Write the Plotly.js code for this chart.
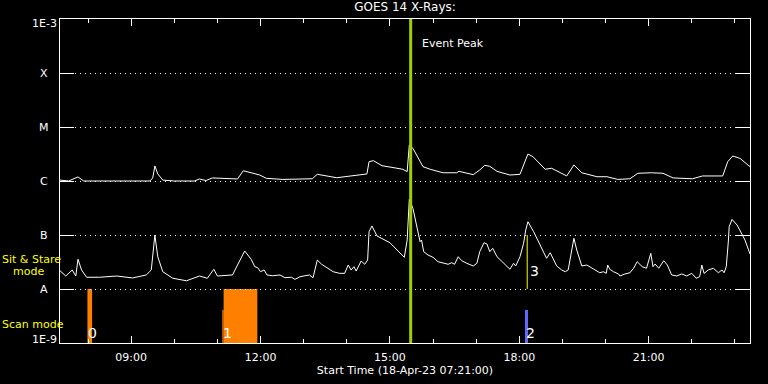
<!DOCTYPE html>
<html>
<head>
<meta charset="utf-8">
<script src="https://cdn.plot.ly/plotly-3.0.1.min.js"></script>
<style>html,body{margin:0;padding:0;background:#000;}#chart{width:768px;height:384px;}</style>
</head>
<body>
<div id="chart"></div>
<script>
// ---- data ----
const day = '2023-04-18';
const longTimes = ['07:21','07:33','07:46','07:54','08:33','09:26','09:30','09:33','09:37','09:44','10:00','10:28','10:35','10:44','10:53','11:28','11:36','11:49','11:59','12:08','12:31','13:12','13:19','13:46','14:05','14:28','14:31','14:37','14:49','15:00','15:18','15:24','15:27','15:32','15:46','15:56','16:14','16:33','16:36','16:56','17:05','17:12','17:19','17:29','17:47','18:01','18:12','18:19','18:36','18:45','19:06','19:16','19:27','19:48','20:02','20:17','20:34','20:45','21:04','21:20','21:34','22:01','22:15','22:43','22:50','22:57','23:07','23:21'];
const longFlux = [1.04e-6,1.0e-6,1.19e-6,1.0e-6,1.0e-6,1.0e-6,1.14e-6,1.9e-6,1.35e-6,1.04e-6,1.0e-6,1.0e-6,1.09e-6,1.02e-6,1.14e-6,1.09e-6,1.55e-6,1.42e-6,1.29e-6,1.12e-6,1.07e-6,1.1e-6,1.33e-6,1.15e-6,1.24e-6,1.35e-6,2.28e-6,2.38e-6,1.92e-6,1.82e-6,1.65e-6,1.49e-6,4.64e-6,4.03e-6,1.84e-6,1.65e-6,1.42e-6,1.42e-6,1.51e-6,1.31e-6,1.6e-6,1.95e-6,1.87e-6,1.51e-6,1.29e-6,1.33e-6,3.16e-6,2.82e-6,1.65e-6,1.72e-6,1.24e-6,1.98e-6,1.42e-6,1.2e-6,1.2e-6,1.07e-6,1.1e-6,1.39e-6,1.42e-6,1.39e-6,1.14e-6,1.1e-6,1.24e-6,1.24e-6,2.28e-6,2.9e-6,2.63e-6,1.84e-6];
const shortTimes = [
  '07:21','07:29','07:38','07:43','07:46','07:51','07:58','08:16','08:40','09:02',
  '09:21','09:28','09:33','09:37','09:44','09:58','10:17','10:35','10:46','10:55',
  '11:00','11:21','11:28','11:38','11:47','11:52','11:56','12:00','12:05','12:09',
  '12:17','12:27','12:34','12:43','12:48','12:55','13:02','13:08','13:13','13:16',
  '13:19','13:25','13:32','13:41','13:50','13:57','14:02','14:06','14:10','14:13',
  '14:20','14:25','14:29','14:31','14:35','14:42','15:00','15:20','15:24','15:27',
  '15:32','15:38','15:42','15:44','15:47','15:53','16:00','16:07','16:14','16:21',
  '16:26','16:30','16:35','16:40','16:47','16:56','17:01','17:05','17:11','17:15',
  '17:19','17:23','17:29','17:36','17:42','17:47','17:52','17:55','18:01','18:06',
  '18:09','18:12','18:20','18:27','18:34','18:38','18:43','18:48','18:52','18:59',
  '19:04','19:08','19:13','19:16','19:20','19:25','19:27','19:34','19:41','19:48',
  '19:52','19:57','20:01','20:03','20:06','20:11','20:18','20:20','20:27','20:34',
  '20:39','20:44','20:51','20:57','21:03','21:06','21:09','21:14','21:21','21:26',
  '21:32','21:39','21:46','21:53','22:00','22:06','22:11','22:14','22:17','22:23',
  '22:30','22:37','22:42','22:45','22:48','22:51','22:52','22:56','23:03','23:14',
  '23:21'];
const shortFlux = [
  2.18e-8,1.74e-8,2.25e-8,1.74e-8,3.55e-8,2.25e-8,1.65e-8,1.65e-8,1.74e-8,1.6e-8,
  1.82e-8,2.25e-8,1.0e-7,3.96e-8,2.09e-8,1.58e-8,1.42e-8,1.74e-8,1.58e-8,2.32e-8,
  1.74e-8,1.82e-8,2.78e-8,5.06e-8,3.55e-8,2.59e-8,2.48e-8,2.09e-8,2.25e-8,1.82e-8,
  1.76e-8,1.82e-8,1.62e-8,1.65e-8,1.51e-8,1.69e-8,1.76e-8,1.82e-8,1.62e-8,2.25e-8,
  3.44e-8,2.87e-8,2.48e-8,2.09e-8,1.95e-8,1.95e-8,2.78e-8,2.25e-8,2.59e-8,2.15e-8,
  3.3e-8,2.87e-8,3.44e-8,1.15e-7,1.47e-7,9.6e-8,7.2e-8,3.86e-8,8.08e-8,4.58e-7,
  3.12e-7,1.42e-7,7.52e-8,8.08e-8,4.91e-8,4.26e-8,3.86e-8,3.2e-8,2.99e-8,2.87e-8,
  3.07e-8,2.87e-8,3.96e-8,3.34e-8,2.99e-8,2.67e-8,2.99e-8,4.91e-8,7.2e-8,6.81e-8,
  4.91e-8,5.67e-8,3.96e-8,3.2e-8,2.78e-8,2.32e-8,2.99e-8,2.67e-8,3.96e-8,7.02e-8,
  1.24e-7,1.76e-7,1.15e-7,7.52e-8,4.91e-8,3.7e-8,4.7e-8,3.44e-8,2.67e-8,2.25e-8,
  2.09e-8,2.25e-8,5.27e-8,8.69e-8,5.27e-8,3.34e-8,2.67e-8,2.78e-8,2.42e-8,2.18e-8,
  2.0e-8,2.09e-8,1.95e-8,2.78e-8,2.32e-8,2.09e-8,1.9e-8,1.74e-8,1.9e-8,2.0e-8,
  2.42e-8,3.2e-8,2.59e-8,2.42e-8,4.58e-8,2.59e-8,2.9e-8,2.42e-8,3.34e-8,2.78e-8,
  1.82e-8,1.74e-8,1.9e-8,1.74e-8,1.95e-8,1.58e-8,1.69e-8,2.78e-8,1.95e-8,2.25e-8,
  2.42e-8,2.0e-8,2.25e-8,2.0e-8,2.59e-8,8.08e-8,1.42e-7,1.95e-7,1.53e-7,8.08e-8,
  4.45e-8];

// scan-mode windows
const scanStart = ['07:59:10','11:06:50','11:08:38','18:07:56'];
const scanEnd   = ['08:05:40','11:08:38','11:55:34','18:12:08'];
const scanTop   = [1e-8, 4.1e-9, 1e-8, 4.1e-9];
const scanKind  = ['orange','orange','orange','blue'];
const scanLabels = ['0','1','2'];
const scanLabelStart = ['07:59:10','11:06:50','18:07:56'];
// sit & stare marker
const stareLabel = '3';
const stareTime = '18:11:00';
const stareRange = [1e-8, 1e-7];
// event peak
const peakTime = '15:28:54';
const peakText = 'Event Peak';
// y axis labels
const yTickVals = [1e-9,1e-8,1e-7,1e-6,1e-5,1e-4,1e-3];
const yTickText = ['1E-9','A','B','C','M','X','1E-3'];
const xRange = ['07:21','23:21'];
const titleText = 'GOES 14 X-Rays:';
const xTitleText = 'Start Time (18-Apr-23 07:21:00)';

// ---- build ----
const T = s => day + ' ' + s;
const FONT = 'DejaVu Sans';
const colors = {orange:'#ff8000', blue:'#6464ff'};

const traces = [
  {x: longTimes.map(T), y: longFlux, type:'scatter', mode:'lines', line:{color:'#ffffff', width:1}, hoverinfo:'skip'},
  {x: shortTimes.map(T), y: shortFlux, type:'scatter', mode:'lines', line:{color:'#ffffff', width:1}, hoverinfo:'skip'}
];

const shapes = [];
for (let i = 0; i < scanStart.length; i++) {
  shapes.push({type:'rect', xref:'x', yref:'y', x0:T(scanStart[i]), x1:T(scanEnd[i]), y0:1e-9, y1:scanTop[i],
    fillcolor:colors[scanKind[i]], line:{width:0}, layer:'below'});
}
shapes.push({type:'line', xref:'x', yref:'y', x0:T(stareTime), x1:T(stareTime), y0:stareRange[0], y1:stareRange[1],
  line:{color:'#ffff00', width:1}, layer:'above'});
shapes.push({type:'line', xref:'x', yref:'paper', x0:T(peakTime), x1:T(peakTime), y0:0, y1:1,
  line:{color:'#a0d000', width:3}, layer:'above'});

const annotations = [];
const plotL = 60, plotW = 690, plotT = 19, plotH = 324;
const px = p => (p - plotL) / plotW;
const py = p => (plotT + plotH - p) / plotH;
for (let i = 0; i < yTickVals.length; i++) {
  let shift = 0;
  if (i === 0) shift = 4;
  if (i === yTickVals.length - 1) shift = -4;
  annotations.push({xref:'paper', yref:'y', x:px(44), y:Math.log10(yTickVals[i]), text:yTickText[i], showarrow:false,
    xanchor:'center', yanchor:'middle', yshift:shift, font:{family:FONT, size:11, color:'#ffffff'}});
}
const yellow = {family:FONT, size:11, color:'#ffff00'};
annotations.push({xref:'paper', yref:'paper', x:px(0), y:py(259), text:'Sit & Stare', showarrow:false, xanchor:'left', yanchor:'middle', font:yellow});
annotations.push({xref:'paper', yref:'paper', x:px(11), y:py(271), text:'mode', showarrow:false, xanchor:'left', yanchor:'middle', font:yellow});
annotations.push({xref:'paper', yref:'paper', x:px(0), y:py(324), text:'Scan mode', showarrow:false, xanchor:'left', yanchor:'middle', font:yellow});
for (let i = 0; i < scanLabels.length; i++) {
  annotations.push({xref:'x', yref:'paper', x:T(scanLabelStart[i]), y:py(333), text:scanLabels[i], showarrow:false,
    xanchor:'left', yanchor:'middle', xshift:-1, font:{family:FONT, size:14, color:'#ffffff'}});
}
annotations.push({xref:'x', yref:'y', x:T(stareTime), y:Math.log10(stareRange[0]) + 0.33, text:stareLabel, showarrow:false,
  xanchor:'left', yanchor:'middle', xshift:1, font:{family:FONT, size:14, color:'#ffffff'}});
annotations.push({xref:'x', yref:'paper', x:T(peakTime), y:py(43), text:peakText, showarrow:false,
  xanchor:'left', yanchor:'middle', xshift:9, font:{family:FONT, size:11, color:'#ffffff'}});

const layout = {
  width:768, height:384,
  margin:{l:plotL, r:768-plotL-plotW, t:plotT, b:384-plotT-plotH, pad:0},
  paper_bgcolor:'#000000', plot_bgcolor:'#000000',
  showlegend:false,
  font:{family:FONT, size:11, color:'#ffffff'},
  title:{text:titleText, xref:'paper', x:0.5, xanchor:'center', y:1, yref:'container', yanchor:'top', pad:{t:3}, font:{family:FONT, size:12, color:'#ffffff'}},
  xaxis:{type:'date', range:[T(xRange[0]), T(xRange[1])], tickformat:'%H:%M', tick0:day+' 00:00', dtick:3*3600000,
    ticks:'inside', ticklen:7, tickwidth:1, tickcolor:'#ffffff', showline:true, linecolor:'#ffffff', linewidth:1, mirror:'ticks',
    showgrid:false, zeroline:false, tickfont:{family:FONT, size:11, color:'#ffffff'}, ticklabelstandoff:4,
    minor:{dtick:3600000, ticks:'inside', ticklen:4, tickcolor:'#ffffff', showgrid:false},
    title:{text:xTitleText, font:{family:FONT, size:11, color:'#ffffff'}, standoff:2}},
  yaxis:{type:'log', range:[-9,-3], tickvals:yTickVals, showticklabels:false,
    ticks:'inside', ticklen:14, tickwidth:1, tickcolor:'#ffffff', showline:true, linecolor:'#ffffff', linewidth:1, mirror:'ticks',
    showgrid:true, gridcolor:'#ffffff', gridwidth:1, griddash:'1px,4px', zeroline:false},
  shapes:shapes, annotations:annotations
};

Plotly.newPlot('chart', traces, layout, {displayModeBar:false, staticPlot:true});
</script>
</body>
</html>
